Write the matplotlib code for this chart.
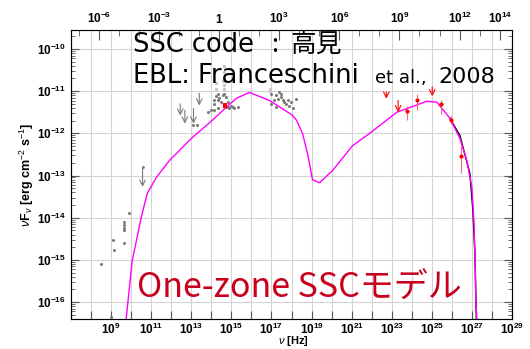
import numpy as np
import matplotlib.pyplot as plt
from matplotlib.ticker import LogLocator, NullLocator, NullFormatter

plt.rcParams['mathtext.fontset'] = 'custom'
plt.rcParams['mathtext.rm'] = 'Liberation Sans'
plt.rcParams['mathtext.it'] = 'Liberation Sans:italic'
plt.rcParams['mathtext.bf'] = 'Liberation Sans:bold'
plt.rcParams['font.family'] = ['Liberation Sans', 'DejaVu Sans']

# one-zone SSC model (log10 nu [Hz], log10 nuFnu)
model_lognu = [9.75, 10.05, 10.5, 10.8, 11.25, 11.9, 13.05, 14.05, 14.75, 15.25, 15.9,
               16.9, 18.05, 18.25, 18.55, 18.8, 19.05, 19.4, 20.05, 21.05, 21.9, 23.25,
               24.75, 25.25, 25.9, 26.4, 26.75, 27.0, 27.1, 27.15, 27.2, 27.25]
model_logf = [-16.41, -15.03, -14.0, -13.43, -13.05, -12.65, -12.10, -11.69, -11.38, -11.17, -11.03,
              -11.22, -11.57, -11.69, -12.0, -12.48, -13.1, -13.17, -12.88, -12.29, -12.0, -11.5,
              -11.24, -11.26, -11.64, -12.12, -12.65, -13.29, -14.07, -14.86, -16.05, -16.41]

# intrinsic (no EBL) high-energy part
black_lognu = [25.9, 26.4, 26.9, 27.05, 27.15, 27.2, 27.22]
black_logf = [-11.64, -12.05, -12.95, -13.84, -14.86, -15.9, -16.41]

# archival data (grey)
grey_lognu = [8.5, 9.0, 9.12, 9.15, 9.65, 9.65, 9.65, 9.65, 9.65, 9.9,
              13.11, 13.3, 13.82, 13.98, 14.15, 14.15, 14.23, 14.32, 14.32, 14.4, 14.48,
              14.57, 14.65, 14.73, 14.82, 14.9, 14.98, 15.07, 15.15, 15.32, 14.15, 14.32,
              14.73, 14.82,
              16.98, 17.23, 17.4, 17.48, 17.57, 17.65, 17.73, 17.9, 17.98, 18.23, 16.98,
              17.23, 18.07, 17.48, 17.32, 17.82, 17.15]
grey_logf = [-15.1, -16.35, -14.53, -14.77, -14.09, -14.17, -14.25, -14.3, -14.59, -13.88,
             -11.79, -11.81, -11.5, -11.44, -11.30, -11.20, -11.12, -11.06, -11.22, -11.15, -11.26,
             -11.10, -11.06, -11.14, -11.38, -11.41, -11.34, -11.38, -11.41, -11.38, -11.45, -11.41,
             -11.38, -11.26,
             -11.06, -11.10, -11.02, -11.14, -11.22, -11.26, -11.30, -11.34, -11.26, -11.18, -11.30,
             -11.38, -11.41, -11.06, -11.18, -11.22, -11.22]

light_lognu = [14.65, 14.65, 14.65, 14.65, 14.65, 14.6, 14.23, 14.23, 16.93, 16.95]
light_logf = [-10.4, -10.55, -10.7, -10.85, -10.95, -10.75, -10.8, -10.95, -10.94, -11.0]

# grey upper limits: log nu, start, end
grey_ul_lognu = [10.57, 12.45, 12.68, 13.11, 13.4]
grey_ul_top = [-12.8, -11.30, -11.45, -11.41, -11.05]
grey_ul_bot = [-13.27, -11.58, -11.77, -11.77, -11.34]

# simultaneous optical (red)
opt_lognu = [14.7, 14.7]
opt_logf = [-11.29, -11.40]

# gamma-ray data (red)
gam_lognu = [23.78, 24.28, 25.48, 25.98, 26.48]
gam_logf = [-11.48, -11.22, -11.30, -11.68, -12.53]
gam_lo = [-11.69, -11.45, -11.53, -11.77, -12.95]
gam_hi = [-11.34, -11.07, -11.20, -11.60, -12.28]

gam_ul_lognu = [22.73, 23.32, 25.02]
gam_ul_top = [-11.02, -11.22, -10.9]
gam_ul_bot = [-11.18, -11.5, -11.12]

x_exp = list(range(7, 30))
y_exp = list(range(-16, -9))
top_exp = [-6, -3, 0, 3, 6, 9, 12, 14]
HZ_PER_EV = 2.418e14

fig = plt.figure(figsize=(5.3, 3.49), dpi=100)
ax = fig.add_axes([71 / 530, 30 / 349, 441 / 530, 289 / 349])
ax.set_xscale('log')
ax.set_yscale('log')
ax.set_xlim(1e7, 1e29)
ax.set_ylim(10 ** -16.4, 10 ** -9.55)

ax.grid(True, which='major', color='#d4d4d4', lw=0.8)
ax.set_axisbelow(True)

p = lambda a: 10.0 ** np.array(a)

ax.plot(p(grey_lognu), p(grey_logf), 'o', color='#7a7a7a', ms=2.2, mew=0)
ax.plot(p(light_lognu), p(light_logf), 'o', color='#c4c4c4', ms=2.4, mew=0)
for x, a, b in zip(grey_ul_lognu, grey_ul_top, grey_ul_bot):
    ax.annotate('', xy=(10 ** x, 10 ** b), xytext=(10 ** x, 10 ** a),
                arrowprops=dict(arrowstyle='->', color='#7a7a7a', lw=0.8, shrinkA=0, shrinkB=0))
ax.plot(p(grey_ul_lognu[:1]), p(grey_ul_top[:1]), 'o', color='#7a7a7a', ms=2, mew=0)

ax.plot(p(model_lognu), p(model_logf), color='#ff00ff', lw=1.0)
ax.plot(p(black_lognu), p(black_logf), color='black', lw=1.0, zorder=1.9)

ax.plot(p(opt_lognu), p(opt_logf), color='red', lw=3, solid_capstyle='butt')
y = p(gam_logf)
ax.errorbar(p(gam_lognu), y, yerr=[y - p(gam_lo), p(gam_hi) - y], fmt='o', color='red',
            ms=3, mew=0, ecolor='#f07070', elinewidth=0.8, capsize=0)
for x, a, b in zip(gam_ul_lognu, gam_ul_top, gam_ul_bot):
    ax.annotate('', xy=(10 ** x, 10 ** b), xytext=(10 ** x, 10 ** a),
                arrowprops=dict(arrowstyle='->', color='red', lw=0.8, shrinkA=0, shrinkB=0))

ax.set_xticks(p(x_exp))
ax.set_xticklabels([r'$\mathbf{10^{%d}}$' % e if e % 2 == 1 and e > 7 else '' for e in x_exp])
ax.xaxis.set_minor_locator(NullLocator())
ax.set_yticks(p(y_exp))
ax.set_yticklabels([r'$\mathbf{10^{%d}}$' % e for e in y_exp])
ax.yaxis.set_minor_locator(LogLocator(base=10, subs=np.arange(2, 10), numticks=50))
ax.yaxis.set_minor_formatter(NullFormatter())
ax.tick_params(which='both', direction='in', labelsize=8.5, color='#555555')
ax.tick_params(axis='x', which='major', length=6, pad=2, top=False)
ax.tick_params(axis='y', which='major', length=6, right=True)
ax.tick_params(axis='y', which='minor', length=3, right=True)
for s in ax.spines.values():
    s.set_color('#777777')

ax2 = ax.twiny()
ax2.set_xscale('log')
ax2.set_xlim(1e7 / HZ_PER_EV, 1e29 / HZ_PER_EV)
ax2.set_xticks(p(top_exp))
ax2.set_xticklabels([('1' if e == 0 else r'$\mathbf{10^{%d}}$' % e) for e in top_exp],
                    fontweight='bold')
ax2.xaxis.set_minor_locator(LogLocator(base=10, subs=[1.0], numticks=50))
ax2.xaxis.set_minor_formatter(NullFormatter())
ax2.tick_params(which='both', direction='in', labelsize=8.5, color='#555555')
ax2.tick_params(which='major', length=7, pad=3)
ax2.tick_params(which='minor', length=4)

ax.set_ylabel(r'$\nu$F$_{\nu}$ [erg cm$^{-2}$ s$^{-1}$]', fontsize=9, fontweight='bold', labelpad=1)
fig.text(293 / 530, 1 / 349, r'$\nu$ [Hz]', fontsize=8, fontweight='bold',
         ha='center', va='bottom')

jp = ['Noto Sans CJK JP', 'DejaVu Sans']
lat = ['DejaVu Sans', 'Noto Sans CJK JP']
fig.text(133 / 530, 1 - 52 / 349, 'SSC code', family=lat, fontsize=18.5, va='baseline')
fig.text(275 / 530, 1 - 52 / 349, ':', family=jp, fontsize=18, va='baseline', ha='center')
fig.text(290 / 530, 1 - 52 / 349, '高見', family=jp, fontsize=18.5, va='baseline')
fig.text(133 / 530, 1 - 83 / 349, 'EBL: Franceschini', family=lat, fontsize=18.5, va='baseline')
fig.text(375 / 530, 1 - 83 / 349, 'et al.,', family=lat, fontsize=13, va='baseline')
fig.text(438 / 530, 1 - 83 / 349, '2008', family=lat, fontsize=16, va='baseline')
fig.text(137 / 530, 1 - 298 / 349, 'One-zone SSCモデル', family=jp, fontsize=24.5,
         color='#c8001e', va='baseline')

fig.savefig('out.png', dpi=100)
